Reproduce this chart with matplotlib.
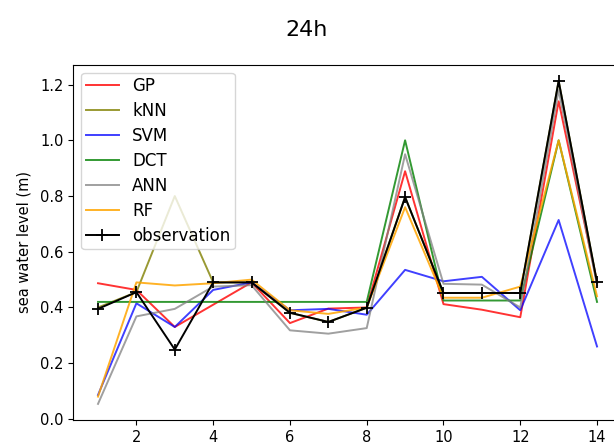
import numpy as np
import matplotlib
matplotlib.use('Agg')
import matplotlib.pyplot as plt

# forecast horizon: 24h
x = list(range(1, 15))

gp = [0.487, 0.463, 0.33, 0.41, 0.49, 0.344, 0.396, 0.40, 0.889, 0.412, 0.392, 0.365, 1.14, 0.49]
knn = [0.40, 0.455, 0.80, 0.49, 0.49, 0.381, 0.348, 0.399, 0.796, 0.452, 0.452, 0.452, 1.213, 0.49]
svm = [0.086, 0.415, 0.33, 0.463, 0.49, 0.39, 0.395, 0.374, 0.535, 0.494, 0.51, 0.39, 0.714, 0.26]
dct = [0.42, 0.42, 0.42, 0.42, 0.42, 0.42, 0.42, 0.42, 1.0, 0.425, 0.425, 0.425, 1.0, 0.42]
ann = [0.054, 0.368, 0.395, 0.475, 0.48, 0.318, 0.306, 0.326, 0.95, 0.485, 0.482, 0.40, 1.18, 0.48]
rf = [0.08, 0.49, 0.479, 0.487, 0.50, 0.39, 0.377, 0.40, 0.76, 0.435, 0.435, 0.475, 1.0, 0.44]
obs = [0.395, 0.455, 0.249, 0.49, 0.49, 0.381, 0.348, 0.399, 0.796, 0.452, 0.452, 0.452, 1.213, 0.49]

fig = plt.figure(figsize=(6.14, 4.44), dpi=100)
ax = fig.add_axes([0.119, 0.054, 0.894, 0.800])

ax.plot(x, gp, color='red', alpha=0.8, lw=1.4, label='GP')
ax.plot(x, knn, color='olive', alpha=0.8, lw=1.4, label='kNN')
ax.plot(x, svm, color='blue', alpha=0.75, lw=1.4, label='SVM')
ax.plot(x, dct, color='green', alpha=0.8, lw=1.4, label='DCT')
ax.plot(x, ann, color='gray', alpha=0.75, lw=1.4, label='ANN')
ax.plot(x, rf, color='orange', alpha=0.85, lw=1.4, label='RF')
ax.plot(x, obs, color='black', lw=1.4, marker='+', markersize=9, mew=1.3, label='observation')

ax.set_xticks([2, 4, 6, 8, 10, 12, 14])
ax.set_yticks([0.0, 0.2, 0.4, 0.6, 0.8, 1.0, 1.2])
ax.tick_params(labelsize=10.5)
ax.set_ylabel('sea water level (m)', fontsize=10.5, labelpad=6)
fig.suptitle('24h', fontsize=16, y=0.955)
ax.legend(loc='upper left', fontsize=12, labelspacing=0.42, borderpad=0.25)

plt.savefig('out.png', dpi=100)
plt.close()
